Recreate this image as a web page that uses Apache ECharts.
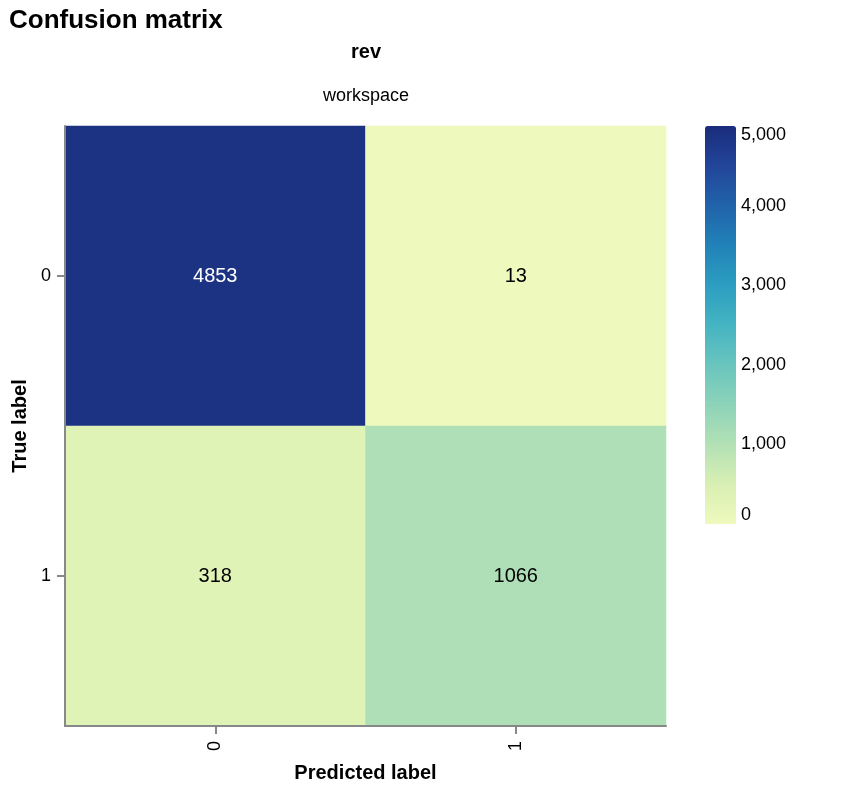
<!DOCTYPE html>
<html>
<head>
<meta charset="utf-8">
<script src="https://cdn.jsdelivr.net/npm/echarts@6/dist/echarts.min.js"></script>
<style>
    html, body { margin: 0; padding: 0; background: #fff; }
    #chart { width: 856px; height: 804px; }
</style>
</head>
<body>
<div id="chart"></div>
<script>
// predicted (x) and true (y) class labels
const predictedLabels = ['0', '1']
const trueLabels = ['0', '1']
// counts, row = true label, column = predicted label
const countsTrue0 = [4853, 13]
const countsTrue1 = [318, 1066]
const colorTicks = [0, 1000, 2000, 3000, 4000, 5000]
const yellowGreenBlue = ['#eff9bd', '#d8efb3', '#b3e1b5', '#8dd3b9', '#69c5be', '#45b4c2',
    '#2c9ec0', '#2182b8', '#2163aa', '#22459a', '#1a2c7b']

const font = 'Helvetica, "Liberation Sans", Arial, sans-serif'
const rows = [countsTrue0, countsTrue1]
const cells = []
rows.forEach((row, yi) => {
    row.forEach((v, xi) => {
        cells.push({
            value: [xi, yi, v],
            label: { color: v > 2500 ? '#fff' : '#000' }
        })
    })
})

const chart = echarts.init(document.getElementById('chart'))
chart.setOption({
    animation: false,
    textStyle: { fontFamily: font },
    title: {
        text: 'Confusion matrix',
        left: 9,
        top: 8,
        padding: 0,
        textStyle: { fontFamily: font, fontSize: 26, fontWeight: 'bold', color: '#000' }
    },
    graphic: [
        {
            type: 'text', x: 366, y: 52,
            style: { text: 'rev', font: 'bold 20px ' + font, fill: '#000', textAlign: 'center', textVerticalAlign: 'middle' }
        },
        {
            type: 'text', x: 366, y: 96,
            style: { text: 'workspace', font: '18px ' + font, fill: '#000', textAlign: 'center', textVerticalAlign: 'middle' }
        }
    ],
    grid: [
        { left: 65, top: 126, width: 601, height: 600 },
        { left: 705, top: 126, width: 31, height: 398 }
    ],
    xAxis: [{
        type: 'category',
        gridIndex: 0,
        z: 10,
        data: predictedLabels,
        name: 'Predicted label',
        nameLocation: 'middle',
        nameGap: 37,
        nameTextStyle: { fontFamily: font, fontSize: 20, fontWeight: 'bold', color: '#000' },
        axisLine: { show: true, lineStyle: { color: '#888', width: 2 } },
        axisTick: { show: true, alignWithLabel: true, length: 8, lineStyle: { color: '#888', width: 2 } },
        axisLabel: { rotate: 90, fontSize: 18, color: '#000', margin: 15 },
        splitArea: { show: false }
    }, {
        type: 'value',
        gridIndex: 1,
        show: false
    }],
    yAxis: [{
        type: 'category',
        gridIndex: 0,
        z: 10,
        data: trueLabels,
        inverse: true,
        name: 'True label',
        nameLocation: 'middle',
        nameGap: 34,
        nameTextStyle: { fontFamily: font, fontSize: 20, fontWeight: 'bold', color: '#000' },
        axisLine: { show: true, lineStyle: { color: '#888', width: 2 } },
        axisTick: { show: true, alignWithLabel: true, length: 8, lineStyle: { color: '#888', width: 2 } },
        axisLabel: { fontSize: 18, color: '#000', margin: 14 },
        splitArea: { show: false }
    }, {
        type: 'value',
        gridIndex: 1,
        position: 'right',
        min: colorTicks[0],
        max: colorTicks[colorTicks.length - 1],
        interval: 1000,
        axisLine: { show: false },
        axisTick: { show: false },
        splitLine: { show: false },
        axisLabel: {
            fontSize: 18,
            color: '#000',
            margin: 5,
            verticalAlignMaxLabel: 'top',
            verticalAlignMinLabel: 'bottom',
            formatter: v => v.toLocaleString('en-US')
        }
    }],
    visualMap: {
        type: 'continuous',
        min: colorTicks[0],
        max: colorTicks[colorTicks.length - 1],
        seriesIndex: 0,
        calculable: false,
        left: 705,
        top: 126,
        padding: 0,
        itemWidth: 31,
        itemHeight: 398,
        text: ['', ''],
        inRange: { color: yellowGreenBlue }
    },
    series: [{
        type: 'heatmap',
        xAxisIndex: 0,
        yAxisIndex: 0,
        data: cells,
        label: {
            show: true,
            fontSize: 20,
            fontFamily: font,
            formatter: p => String(p.value[2])
        },
        emphasis: { disabled: true }
    }]
})
</script>
</body>
</html>
